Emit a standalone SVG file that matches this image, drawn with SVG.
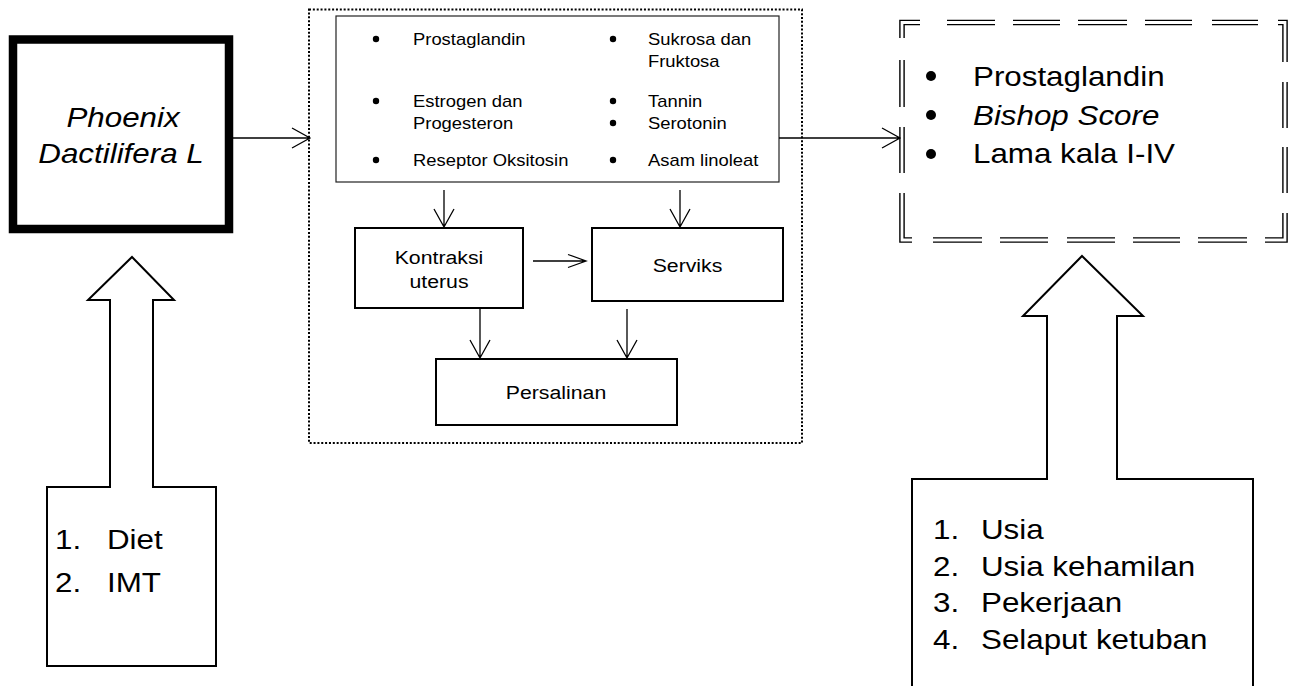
<svg xmlns="http://www.w3.org/2000/svg" width="1293" height="686" viewBox="0 0 1293 686">
<style>
text{font-family:"Liberation Sans",Arial,sans-serif;fill:#000}
.big{font-size:28.5px}
.sm{font-size:16px}
.mid{font-size:19px}
.it{font-style:italic}
.box{fill:#fff;stroke:#000;stroke-width:2}
.ln{fill:none;stroke:#000;stroke-width:1.3}
.bul{fill:#000}
.dd1{fill:none;stroke:#000;stroke-width:5.6;stroke-linejoin:miter}
.dd2{fill:none;stroke:#fff;stroke-width:2.8;stroke-linejoin:miter}
</style>
<rect width="1293" height="686" fill="#fff"/>

<g id="phoenix">
<rect x="13" y="39.5" width="216" height="189.5" fill="#fff" stroke="#000" stroke-width="8.5"/>
<text class="big it" text-anchor="middle" transform="translate(123,127) scale(1.1,1)">Phoenix</text>
<text class="big it" text-anchor="middle" transform="translate(121,163) scale(1.1,1)">Dactilifera L</text>
</g>

<g id="mechanism">
<rect x="309" y="9.5" width="493" height="433.5" fill="none" stroke="#000" stroke-width="2" stroke-dasharray="2 1.85"/>
</g>

<g id="compounds">
<rect x="336" y="16" width="443" height="166" fill="#fff" stroke="#222" stroke-width="1.2"/>
<circle class="bul" cx="376" cy="39" r="3.2"/>
<circle class="bul" cx="376" cy="101" r="3.2"/>
<circle class="bul" cx="376" cy="160" r="3.2"/>
<circle class="bul" cx="613" cy="39" r="3.2"/>
<circle class="bul" cx="613" cy="101" r="3.2"/>
<circle class="bul" cx="613" cy="123" r="3.2"/>
<circle class="bul" cx="613" cy="160" r="3.2"/>
<text class="sm" transform="translate(413,45) scale(1.15,1)">Prostaglandin</text>
<text class="sm" transform="translate(413,107) scale(1.15,1)">Estrogen dan</text>
<text class="sm" transform="translate(413,128.5) scale(1.15,1)">Progesteron</text>
<text class="sm" transform="translate(413,166) scale(1.15,1)">Reseptor Oksitosin</text>
<text class="sm" transform="translate(648,45) scale(1.15,1)">Sukrosa dan</text>
<text class="sm" transform="translate(648,67) scale(1.15,1)">Fruktosa</text>
<text class="sm" transform="translate(648,107) scale(1.15,1)">Tannin</text>
<text class="sm" transform="translate(648,129) scale(1.15,1)">Serotonin</text>
<text class="sm" transform="translate(648,166) scale(1.15,1)">Asam linoleat</text>
</g>

<g id="kontraksi">
<rect class="box" x="355" y="228" width="168" height="80"/>
<text class="mid" text-anchor="middle" transform="translate(439,264) scale(1.12,1)">Kontraksi</text>
<text class="mid" text-anchor="middle" transform="translate(439,288) scale(1.12,1)">uterus</text>
</g>

<g id="serviks">
<rect class="box" x="592" y="228" width="191" height="73"/>
<text class="mid" text-anchor="middle" transform="translate(687.5,271.5) scale(1.12,1)">Serviks</text>
</g>

<g id="persalinan">
<rect class="box" x="436" y="359" width="241" height="66"/>
<text class="mid" text-anchor="middle" transform="translate(556,399) scale(1.12,1)">Persalinan</text>
</g>

<g id="outcome">
<path class="dd1" d="M902,38 V22.5 H920 M947,22.5 H995 M1013,22.5 H1060 M1078,22.5 H1127 M1145,22.5 H1192 M1212,22.5 H1258 M1278,22.5 H1285 V62 M1285,82 V128 M1285,147 V193 M1285,213 V240 H1265 M1247,240 H1198 M1180,240 H1133 M1115,240 H1067 M1048,240 H1000 M982,240 H933 M912,240 H902 V193 M902,173 V127 M902,107 V60"/>
<path class="dd2" d="M902,38 V22.5 H920 M947,22.5 H995 M1013,22.5 H1060 M1078,22.5 H1127 M1145,22.5 H1192 M1212,22.5 H1258 M1278,22.5 H1285 V62 M1285,82 V128 M1285,147 V193 M1285,213 V240 H1265 M1247,240 H1198 M1180,240 H1133 M1115,240 H1067 M1048,240 H1000 M982,240 H933 M912,240 H902 V193 M902,173 V127 M902,107 V60"/>
<circle class="bul" cx="931" cy="76" r="5"/>
<circle class="bul" cx="931" cy="115" r="5"/>
<circle class="bul" cx="931" cy="154" r="5"/>
<text class="big" transform="translate(973,86) scale(1.1,1)">Prostaglandin</text>
<text class="big it" transform="translate(973,125) scale(1.1,1)">Bishop Score</text>
<text class="big" transform="translate(973,163) scale(1.1,1)">Lama kala I-IV</text>
</g>

<g id="factors-left">
<polygon class="box" points="132,257 174,300 153,300 153,487 216,487 216,666 47,666 47,487 110,487 110,300 88,300"/>
<text class="big" transform="translate(55,549) scale(1.1,1)">1.</text>
<text class="big" transform="translate(107,549) scale(1.1,1)">Diet</text>
<text class="big" transform="translate(55,592) scale(1.1,1)">2.</text>
<text class="big" transform="translate(107,592) scale(1.1,1)">IMT</text>
</g>

<g id="factors-right">
<polygon class="box" points="1082,256 1143,316 1117,316 1117,479 1253,479 1253,692 912,692 912,479 1047,479 1047,316 1023,316"/>
<text class="big" transform="translate(933,539) scale(1.1,1)">1.</text>
<text class="big" transform="translate(981,539) scale(1.1,1)">Usia</text>
<text class="big" transform="translate(933,576) scale(1.1,1)">2.</text>
<text class="big" transform="translate(981,576) scale(1.1,1)">Usia kehamilan</text>
<text class="big" transform="translate(933,612) scale(1.1,1)">3.</text>
<text class="big" transform="translate(981,612) scale(1.1,1)">Pekerjaan</text>
<text class="big" transform="translate(933,649) scale(1.1,1)">4.</text>
<text class="big" transform="translate(981,649) scale(1.1,1)">Selaput ketuban</text>
</g>

<g id="connectors">
<path class="ln" d="M233,138 H310 M292,128 L310,138 L292,148"/>
<path class="ln" d="M779,138 H900 M882,128 L900,138 L882,148"/>
<path class="ln" d="M444,190 V227 M434,209 L444,227 L454,209"/>
<path class="ln" d="M680,190 V227 M670,209 L680,227 L690,209"/>
<path class="ln" d="M533,261 H586 M568,254.5 L586,261 L568,267.5"/>
<path class="ln" d="M480,308 V358 M470,340 L480,358 L490,340"/>
<path class="ln" d="M627,309 V358 M617,340 L627,358 L637,340"/>
</g>
</svg>
